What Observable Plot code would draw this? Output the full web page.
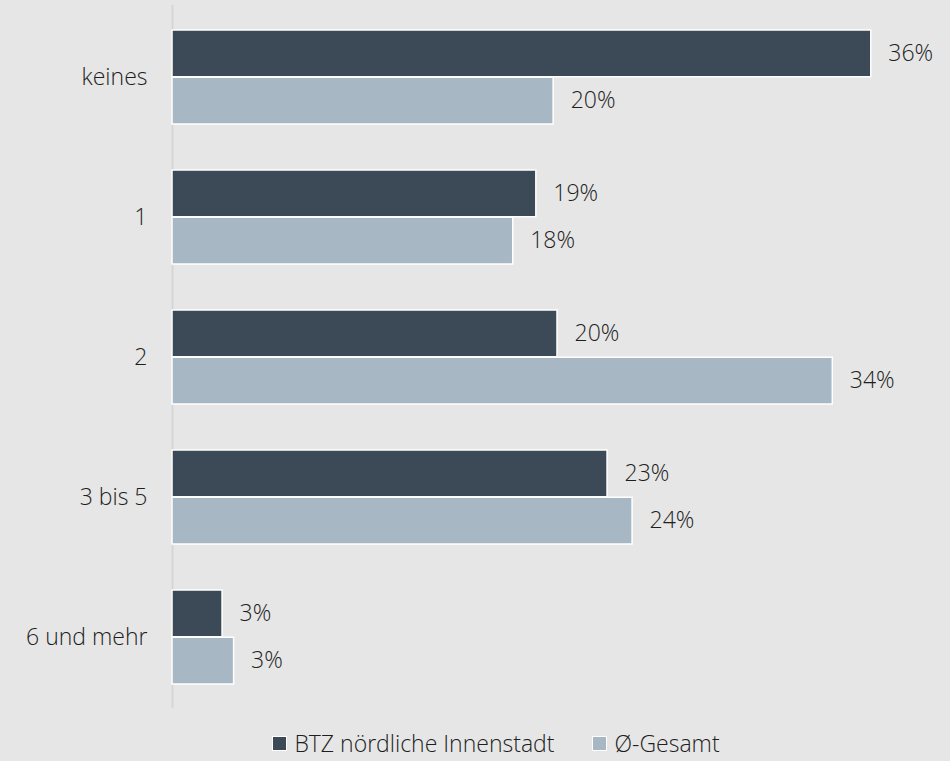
<!DOCTYPE html>
<html>
<head>
<meta charset="utf-8">
<script src="https://cdn.jsdelivr.net/npm/d3@7"></script>
<script src="https://cdn.jsdelivr.net/npm/@observablehq/plot@0.6"></script>
<style>
  html, body { margin: 0; padding: 0; background: #e6e6e6; }
  body { width: 950px; height: 761px; overflow: hidden; font-family: "Open Sans", sans-serif; }
  #legend { display: flex; justify-content: center; align-items: center; gap: 38px; font-size: 23px; font-weight: 300; color: #1e1e1e; margin-top: 12px; padding-left: 42px; }
  .item { display: flex; align-items: center; gap: 7px; }
  .sw { width: 15px; height: 15px; border: 1px solid #fff; box-sizing: border-box; }
</style>
</head>
<body>
<div id="chart"></div>
<div id="legend"></div>
<script>
const categories = ["keines", "1", "2", "3 bis 5", "6 und mehr"];
const seriesNames = ["BTZ nördliche Innenstadt", "Ø-Gesamt"];
const btz = [36.3, 18.9, 20.0, 22.6, 2.6];
const gesamt = [19.8, 17.7, 34.3, 23.9, 3.2];
const colors = ["#3c4a57", "#a8b7c4"];

const rows = categories.map((c, i) => ({cat: c, btz: btz[i], ges: gesamt[i]}));

const H = 715, MT = 5, MB = 7, PI = 0.33, PO = 0.158;
const step = (H - MT - MB) / (categories.length - PI + 2 * PO);
const bw = step * (1 - PI);
const half = bw / 2;

const fontFam = "'Open Sans', sans-serif";
const chart = Plot.plot({
  width: 950,
  height: H,
  marginTop: MT,
  marginBottom: MB,
  marginLeft: 172,
  marginRight: 8,
  style: {background: "#e6e6e6", fontFamily: fontFam, fontSize: "23px", fontWeight: 300, color: "#1e1e1e"},
  x: {domain: [0, 40], axis: null},
  y: {domain: categories, paddingInner: PI, paddingOuter: PO, label: null, tickSize: 0, tickPadding: 25},
  marks: [
    Plot.ruleX([0], {stroke: "#d5d5d5", strokeWidth: 2}),
    Plot.barX(rows, {y: "cat", x: "btz", fill: colors[0], stroke: "#fff", strokeWidth: 1.5, insetBottom: half}),
    Plot.barX(rows, {y: "cat", x: "ges", fill: colors[1], stroke: "#fff", strokeWidth: 1.5, insetTop: half}),
    Plot.text(rows, {y: "cat", x: "btz", text: d => Math.round(d.btz) + "%", dx: 17, dy: -half / 2, textAnchor: "start", fontSize: 23, fontWeight: 300, fill: "#1e1e1e"}),
    Plot.text(rows, {y: "cat", x: "ges", text: d => Math.round(d.ges) + "%", dx: 17, dy: half / 2, textAnchor: "start", fontSize: 23, fontWeight: 300, fill: "#1e1e1e"})
  ]
});
document.getElementById("chart").appendChild(chart);

const legend = document.getElementById("legend");
seriesNames.forEach((n, i) => {
  const it = document.createElement("div");
  it.className = "item";
  const sw = document.createElement("div");
  sw.className = "sw";
  sw.style.background = colors[i];
  const t = document.createElement("span");
  t.textContent = n;
  it.appendChild(sw); it.appendChild(t);
  legend.appendChild(it);
});
</script>
</body>
</html>
